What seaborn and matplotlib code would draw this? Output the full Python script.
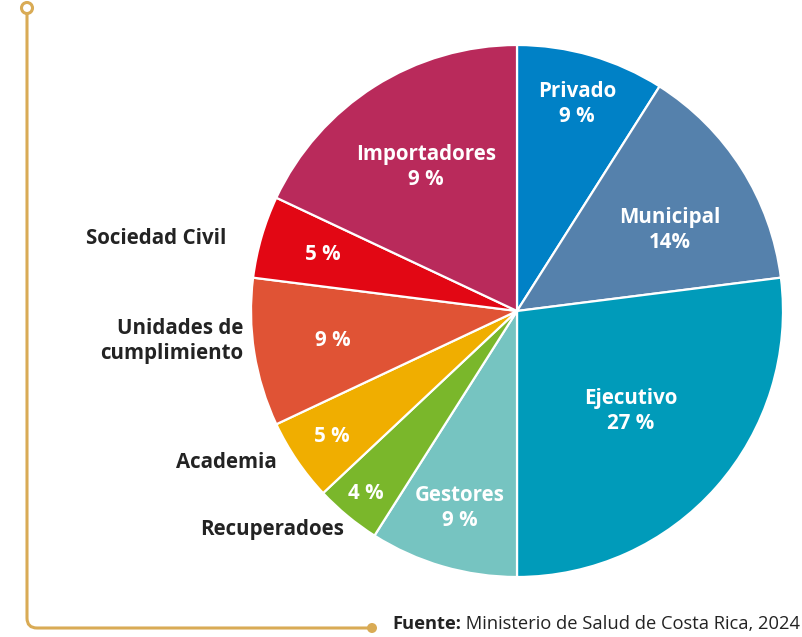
import numpy as np
import matplotlib
matplotlib.use("Agg")
import matplotlib.pyplot as plt
import matplotlib.patches as mpatches
from matplotlib.path import Path
import seaborn as sns

# ---- data ----
categories = ["Privado", "Municipal", "Ejecutivo", "Gestores", "Recuperadoes",
              "Academia", "Unidades de\ncumplimiento", "Sociedad Civil", "Importadores"]
values = [9, 14, 27, 9, 4, 5, 9, 5, 18]
pct_labels = ["9 %", "14%", "27 %", "9 %", "4 %", "5 %", "9 %", "5 %", "9 %"]
colors = ["#0081C6", "#5581AC", "#009BBA", "#76C4C1", "#7AB72B",
          "#F0AE00", "#E05335", "#E20714", "#B92A5B"]
source_bold = "Fuente:"
source_text = " Ministerio de Salud de Costa Rica, 2024"

sns.set_theme(style="white")
plt.rcParams['font.family'] = ['Open Sans', 'DejaVu Sans']

W, H = 803, 637
fig = plt.figure(figsize=(W / 100, H / 100), dpi=100)
ax = fig.add_axes([0, 0, 1, 1])

cx, cy, R = 517, H - 311, 266
pal = sns.color_palette(colors)
wedges, _ = ax.pie(values, colors=pal, startangle=90, counterclock=False,
                   center=(cx, cy), radius=R, frame=True,
                   wedgeprops=dict(edgecolor="white", linewidth=1.6))
ax.set_xlim(0, W)
ax.set_ylim(0, H)
ax.set_aspect("equal")
ax.axis("off")

# inside labels: radius fraction and angle nudge per slice (layout)
rfrac = [0.81, 0.65, 0.57, 0.77, 0.89, 0.84, 0.70, 0.76, 0.64]
nudge = [0, -4.5, 0, 0, 0, 0, 0, 0, 0]
show_name_inside = [True, True, True, True, False, False, False, False, True]
fs = 14.8
ls = 1.25
for w, lab, cat, rf, nd, inside in zip(wedges, pct_labels, categories, rfrac, nudge, show_name_inside):
    ang = np.deg2rad((w.theta1 + w.theta2) / 2 + nd)
    x = cx + rf * R * np.cos(ang)
    y = cy + rf * R * np.sin(ang)
    txt = f"{cat}\n{lab}" if inside else lab
    ax.text(x, y, txt, ha="center", va="center", color="white",
            fontsize=fs, fontweight="bold", linespacing=ls)

# outside labels (dark)
dark = "#232323"
ax.text(226, H - 239, categories[7], ha="right", va="center", color=dark,
        fontsize=fs, fontweight="bold")
ax.text(243, H - 341, categories[6], ha="right", va="center", color=dark,
        fontsize=fs, fontweight="bold", linespacing=ls, multialignment="right")
ax.text(277, H - 462, categories[5], ha="right", va="center", color=dark,
        fontsize=fs, fontweight="bold")
ax.text(344, H - 530, categories[4], ha="right", va="center", color=dark,
        fontsize=fs, fontweight="bold")

# decorative gold line
gold = "#D9AB55"
r = 10
verts = [(27, H - 14), (27, H - 628 + r), (27, H - 628), (27 + r, H - 628), (372, H - 628)]
codes = [Path.MOVETO, Path.LINETO, Path.CURVE3, Path.CURVE3, Path.LINETO]
ax.add_patch(mpatches.PathPatch(Path(verts, codes), fill=False, edgecolor=gold,
                                linewidth=2.2, capstyle="butt"))
ax.add_patch(mpatches.Circle((27, H - 8), 5.5, fill=False, edgecolor=gold, linewidth=2.2))
ax.add_patch(mpatches.Circle((372, H - 628), 5, facecolor=gold, edgecolor="none"))

# source
t1 = ax.text(392, H - 624, source_bold, ha="left", va="center", color=dark,
             fontsize=13.2, fontweight="bold")
fig.canvas.draw()
bb = t1.get_window_extent()
ax.text(bb.x1, H - 624, source_text, ha="left", va="center", color=dark, fontsize=13.2)

fig.savefig("out.png", dpi=100, facecolor="white")
